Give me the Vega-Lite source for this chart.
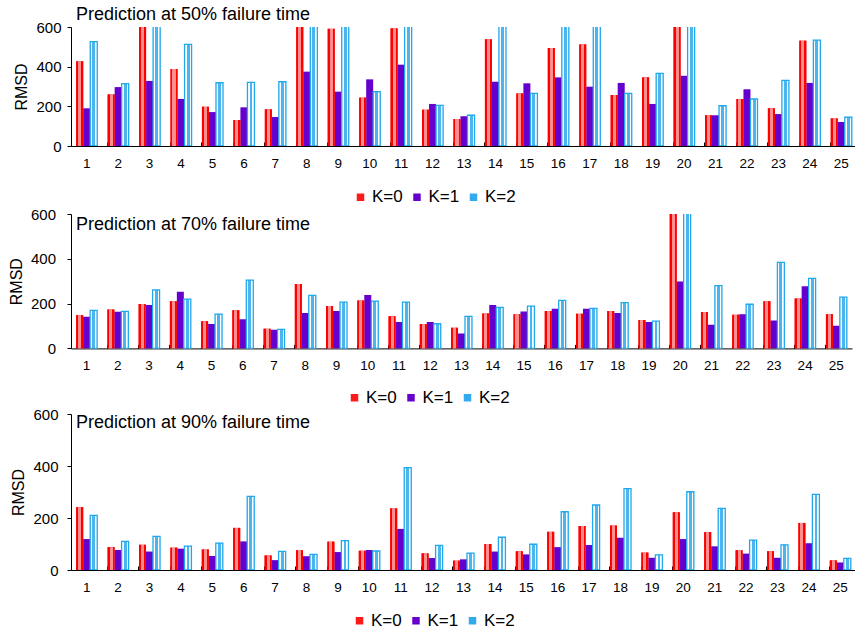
{
  "$schema": "https://vega.github.io/schema/vega-lite/v6.json",
  "padding": {"left": 8, "top": 5, "right": 0, "bottom": 0},
  "config": {
    "font": "Liberation Sans",
    "view": {"stroke": null},
    "axis": {"labelColor": "#000", "titleColor": "#000", "domainColor": "#000", "tickColor": "#000", "grid": false, "titleFontWeight": "normal"},
    "legend": {"labelColor": "#000"}
  },
  "datasets": {
    "d50": [
      {"c":1,"k":"K=0","v":427},{"c":1,"k":"K=1","v":190},{"c":1,"k":"K=2","v":526},
      {"c":2,"k":"K=0","v":260},{"c":2,"k":"K=1","v":297},{"c":2,"k":"K=2","v":314},
      {"c":3,"k":"K=0","v":650},{"c":3,"k":"K=1","v":328},{"c":3,"k":"K=2","v":650},
      {"c":4,"k":"K=0","v":388},{"c":4,"k":"K=1","v":237},{"c":4,"k":"K=2","v":512},
      {"c":5,"k":"K=0","v":198},{"c":5,"k":"K=1","v":171},{"c":5,"k":"K=2","v":319},
      {"c":6,"k":"K=0","v":131},{"c":6,"k":"K=1","v":195},{"c":6,"k":"K=2","v":321},
      {"c":7,"k":"K=0","v":185},{"c":7,"k":"K=1","v":146},{"c":7,"k":"K=2","v":324},
      {"c":8,"k":"K=0","v":650},{"c":8,"k":"K=1","v":375},{"c":8,"k":"K=2","v":650},
      {"c":9,"k":"K=0","v":591},{"c":9,"k":"K=1","v":274},{"c":9,"k":"K=2","v":650},
      {"c":10,"k":"K=0","v":244},{"c":10,"k":"K=1","v":336},{"c":10,"k":"K=2","v":274},
      {"c":11,"k":"K=0","v":593},{"c":11,"k":"K=1","v":410},{"c":11,"k":"K=2","v":650},
      {"c":12,"k":"K=0","v":183},{"c":12,"k":"K=1","v":212},{"c":12,"k":"K=2","v":205},
      {"c":13,"k":"K=0","v":136},{"c":13,"k":"K=1","v":150},{"c":13,"k":"K=2","v":155},
      {"c":14,"k":"K=0","v":538},{"c":14,"k":"K=1","v":324},{"c":14,"k":"K=2","v":650},
      {"c":15,"k":"K=0","v":265},{"c":15,"k":"K=1","v":316},{"c":15,"k":"K=2","v":265},
      {"c":16,"k":"K=0","v":494},{"c":16,"k":"K=1","v":346},{"c":16,"k":"K=2","v":650},
      {"c":17,"k":"K=0","v":512},{"c":17,"k":"K=1","v":299},{"c":17,"k":"K=2","v":650},
      {"c":18,"k":"K=0","v":257},{"c":18,"k":"K=1","v":318},{"c":18,"k":"K=2","v":265},
      {"c":19,"k":"K=0","v":346},{"c":19,"k":"K=1","v":212},{"c":19,"k":"K=2","v":366},
      {"c":20,"k":"K=0","v":650},{"c":20,"k":"K=1","v":354},{"c":20,"k":"K=2","v":650},
      {"c":21,"k":"K=0","v":155},{"c":21,"k":"K=1","v":155},{"c":21,"k":"K=2","v":203},
      {"c":22,"k":"K=0","v":237},{"c":22,"k":"K=1","v":286},{"c":22,"k":"K=2","v":237},
      {"c":23,"k":"K=0","v":190},{"c":23,"k":"K=1","v":161},{"c":23,"k":"K=2","v":331},
      {"c":24,"k":"K=0","v":531},{"c":24,"k":"K=1","v":318},{"c":24,"k":"K=2","v":534},
      {"c":25,"k":"K=0","v":139},{"c":25,"k":"K=1","v":121},{"c":25,"k":"K=2","v":145}
    ],
    "d70": [
      {"c":1,"k":"K=0","v":149},{"c":1,"k":"K=1","v":141},{"c":1,"k":"K=2","v":170},
      {"c":2,"k":"K=0","v":174},{"c":2,"k":"K=1","v":164},{"c":2,"k":"K=2","v":165},
      {"c":3,"k":"K=0","v":198},{"c":3,"k":"K=1","v":194},{"c":3,"k":"K=2","v":261},
      {"c":4,"k":"K=0","v":210},{"c":4,"k":"K=1","v":253},{"c":4,"k":"K=2","v":220},
      {"c":5,"k":"K=0","v":121},{"c":5,"k":"K=1","v":109},{"c":5,"k":"K=2","v":153},
      {"c":6,"k":"K=0","v":170},{"c":6,"k":"K=1","v":130},{"c":6,"k":"K=2","v":305},
      {"c":7,"k":"K=0","v":88},{"c":7,"k":"K=1","v":83},{"c":7,"k":"K=2","v":85},
      {"c":8,"k":"K=0","v":287},{"c":8,"k":"K=1","v":158},{"c":8,"k":"K=2","v":237},
      {"c":9,"k":"K=0","v":189},{"c":9,"k":"K=1","v":167},{"c":9,"k":"K=2","v":207},
      {"c":10,"k":"K=0","v":214},{"c":10,"k":"K=1","v":238},{"c":10,"k":"K=2","v":211},
      {"c":11,"k":"K=0","v":144},{"c":11,"k":"K=1","v":118},{"c":11,"k":"K=2","v":207},
      {"c":12,"k":"K=0","v":109},{"c":12,"k":"K=1","v":118},{"c":12,"k":"K=2","v":110},
      {"c":13,"k":"K=0","v":92},{"c":13,"k":"K=1","v":66},{"c":13,"k":"K=2","v":143},
      {"c":14,"k":"K=0","v":156},{"c":14,"k":"K=1","v":194},{"c":14,"k":"K=2","v":183},
      {"c":15,"k":"K=0","v":152},{"c":15,"k":"K=1","v":165},{"c":15,"k":"K=2","v":189},
      {"c":16,"k":"K=0","v":167},{"c":16,"k":"K=1","v":177},{"c":16,"k":"K=2","v":214},
      {"c":17,"k":"K=0","v":155},{"c":17,"k":"K=1","v":177},{"c":17,"k":"K=2","v":179},
      {"c":18,"k":"K=0","v":167},{"c":18,"k":"K=1","v":158},{"c":18,"k":"K=2","v":204},
      {"c":19,"k":"K=0","v":127},{"c":19,"k":"K=1","v":118},{"c":19,"k":"K=2","v":122},
      {"c":20,"k":"K=0","v":650},{"c":20,"k":"K=1","v":299},{"c":20,"k":"K=2","v":650},
      {"c":21,"k":"K=0","v":162},{"c":21,"k":"K=1","v":106},{"c":21,"k":"K=2","v":280},
      {"c":22,"k":"K=0","v":150},{"c":22,"k":"K=1","v":153},{"c":22,"k":"K=2","v":197},
      {"c":23,"k":"K=0","v":211},{"c":23,"k":"K=1","v":124},{"c":23,"k":"K=2","v":384},
      {"c":24,"k":"K=0","v":223},{"c":24,"k":"K=1","v":278},{"c":24,"k":"K=2","v":313},
      {"c":25,"k":"K=0","v":153},{"c":25,"k":"K=1","v":101},{"c":25,"k":"K=2","v":229}
    ],
    "d90": [
      {"c":1,"k":"K=0","v":242},{"c":1,"k":"K=1","v":119},{"c":1,"k":"K=2","v":210},
      {"c":2,"k":"K=0","v":88},{"c":2,"k":"K=1","v":77},{"c":2,"k":"K=2","v":110},
      {"c":3,"k":"K=0","v":97},{"c":3,"k":"K=1","v":71},{"c":3,"k":"K=2","v":129},
      {"c":4,"k":"K=0","v":86},{"c":4,"k":"K=1","v":82},{"c":4,"k":"K=2","v":92},
      {"c":5,"k":"K=0","v":79},{"c":5,"k":"K=1","v":54},{"c":5,"k":"K=2","v":103},
      {"c":6,"k":"K=0","v":162},{"c":6,"k":"K=1","v":110},{"c":6,"k":"K=2","v":283},
      {"c":7,"k":"K=0","v":56},{"c":7,"k":"K=1","v":38},{"c":7,"k":"K=2","v":72},
      {"c":8,"k":"K=0","v":76},{"c":8,"k":"K=1","v":53},{"c":8,"k":"K=2","v":60},
      {"c":9,"k":"K=0","v":109},{"c":9,"k":"K=1","v":69},{"c":9,"k":"K=2","v":113},
      {"c":10,"k":"K=0","v":74},{"c":10,"k":"K=1","v":77},{"c":10,"k":"K=2","v":73},
      {"c":11,"k":"K=0","v":237},{"c":11,"k":"K=1","v":158},{"c":11,"k":"K=2","v":394},
      {"c":12,"k":"K=0","v":64},{"c":12,"k":"K=1","v":46},{"c":12,"k":"K=2","v":95},
      {"c":13,"k":"K=0","v":36},{"c":13,"k":"K=1","v":41},{"c":13,"k":"K=2","v":65},
      {"c":14,"k":"K=0","v":100},{"c":14,"k":"K=1","v":71},{"c":14,"k":"K=2","v":126},
      {"c":15,"k":"K=0","v":72},{"c":15,"k":"K=1","v":60},{"c":15,"k":"K=2","v":99},
      {"c":16,"k":"K=0","v":147},{"c":16,"k":"K=1","v":88},{"c":16,"k":"K=2","v":224},
      {"c":17,"k":"K=0","v":169},{"c":17,"k":"K=1","v":96},{"c":17,"k":"K=2","v":250},
      {"c":18,"k":"K=0","v":171},{"c":18,"k":"K=1","v":124},{"c":18,"k":"K=2","v":313},
      {"c":19,"k":"K=0","v":67},{"c":19,"k":"K=1","v":47},{"c":19,"k":"K=2","v":58},
      {"c":20,"k":"K=0","v":222},{"c":20,"k":"K=1","v":119},{"c":20,"k":"K=2","v":301},
      {"c":21,"k":"K=0","v":146},{"c":21,"k":"K=1","v":91},{"c":21,"k":"K=2","v":237},
      {"c":22,"k":"K=0","v":76},{"c":22,"k":"K=1","v":63},{"c":22,"k":"K=2","v":115},
      {"c":23,"k":"K=0","v":72},{"c":23,"k":"K=1","v":47},{"c":23,"k":"K=2","v":97},
      {"c":24,"k":"K=0","v":181},{"c":24,"k":"K=1","v":103},{"c":24,"k":"K=2","v":291},
      {"c":25,"k":"K=0","v":37},{"c":25,"k":"K=1","v":29},{"c":25,"k":"K=2","v":45}
    ]
  },
  "spacing": 1,
  "resolve": {"scale": {"x": "independent", "y": "independent", "xOffset": "independent", "color": "independent"}, "legend": {"color": "independent"}},
  "vconcat": [
    {
      "data": {"name": "d50"},
      "width": 786, "height": 119,
      "title": {"text": "Prediction at 50% failure time", "anchor": "start", "frame": "group", "offset": -3.6, "dx": 5, "fontSize": 18, "fontWeight": "normal", "color": "#000"},
      "encoding": {
        "x": {"field": "c", "type": "ordinal", "scale": {"paddingInner": 0.33, "paddingOuter": 0.165}, "axis": {"title": null, "labelAngle": 0, "labelFontSize": 13.5, "bandPosition": 0, "tickSize": -4, "labelPadding": 14}},
        "xOffset": {"field": "k", "type": "nominal", "scale": {"domain": ["K=0", "K=1", "K=2"], "paddingInner": 0, "paddingOuter": 0}},
        "y": {"field": "v", "type": "quantitative", "scale": {"domain": [0, 600], "nice": false}, "axis": {"title": "RMSD", "values": [0, 200, 400, 600], "tickSize": 4, "labelPadding": 6, "labelFontSize": 15, "titleFontSize": 16, "titlePadding": 6}}
      },
      "layer": [
        {"mark": {"type": "bar", "clip": true}, "encoding": {"color": {"field": "k", "type": "nominal", "scale": {"domain": ["K=0", "K=1", "K=2"], "range": ["#ff1a1a", "#6600cc", "#33aaee"]}, "legend": {"title": null, "orient": "none", "legendX": 281, "legendY": 161.5, "direction": "horizontal", "symbolType": "square", "symbolSize": 56, "labelFontSize": 17, "labelOffset": 3, "columnPadding": 5.5}}}},
        {"transform": [{"filter": "datum.k == 'K=0'"}], "mark": {"type": "bar", "clip": true, "fill": {"gradient": "linear", "x1": 0, "y1": 0, "x2": 1, "y2": 0, "stops": [{"offset": 0, "color": "#ff0000"}, {"offset": 0.28, "color": "#ff0000"}, {"offset": 0.28, "color": "#ff8f8f"}, {"offset": 0.72, "color": "#ff8f8f"}, {"offset": 0.72, "color": "#ff0000"}, {"offset": 1, "color": "#ff0000"}]}}},
        {"transform": [{"filter": "datum.k == 'K=2'"}], "mark": {"type": "bar", "clip": true, "stroke": "#1fa8ec", "strokeWidth": 1.3, "fill": {"gradient": "linear", "x1": 0, "y1": 0, "x2": 1, "y2": 0, "stops": [{"offset": 0, "color": "#ffffff"}, {"offset": 0.3, "color": "#ffffff"}, {"offset": 0.3, "color": "#4db5ee"}, {"offset": 0.72, "color": "#4db5ee"}, {"offset": 0.72, "color": "#ffffff"}, {"offset": 1, "color": "#ffffff"}]}}}
      ]
    },
    {
      "data": {"name": "d70"},
      "width": 781, "height": 134.4,
      "title": {"text": "Prediction at 70% failure time", "anchor": "start", "frame": "group", "offset": -27.3, "dx": 5, "fontSize": 18, "fontWeight": "normal", "color": "#000"},
      "encoding": {
        "x": {"field": "c", "type": "ordinal", "scale": {"paddingInner": 0.33, "paddingOuter": 0.165}, "axis": {"title": null, "labelAngle": 0, "labelFontSize": 13.5, "bandPosition": 0, "tickSize": -4, "labelPadding": 14}},
        "xOffset": {"field": "k", "type": "nominal", "scale": {"domain": ["K=0", "K=1", "K=2"], "paddingInner": 0, "paddingOuter": 0}},
        "y": {"field": "v", "type": "quantitative", "scale": {"domain": [0, 600], "nice": false}, "axis": {"title": "RMSD", "values": [0, 200, 400, 600], "tickSize": 4, "labelPadding": 11.5, "labelFontSize": 15, "titleFontSize": 16, "titlePadding": 6}}
      },
      "layer": [
        {"mark": {"type": "bar", "clip": true}, "encoding": {"color": {"field": "k", "type": "nominal", "scale": {"domain": ["K=0", "K=1", "K=2"], "range": ["#ff1a1a", "#6600cc", "#33aaee"]}, "legend": {"title": null, "orient": "none", "legendX": 275, "legendY": 175, "direction": "horizontal", "symbolType": "square", "symbolSize": 56, "labelFontSize": 17, "labelOffset": 3, "columnPadding": 5.5}}}},
        {"transform": [{"filter": "datum.k == 'K=0'"}], "mark": {"type": "bar", "clip": true, "fill": {"gradient": "linear", "x1": 0, "y1": 0, "x2": 1, "y2": 0, "stops": [{"offset": 0, "color": "#ff0000"}, {"offset": 0.28, "color": "#ff0000"}, {"offset": 0.28, "color": "#ff8f8f"}, {"offset": 0.72, "color": "#ff8f8f"}, {"offset": 0.72, "color": "#ff0000"}, {"offset": 1, "color": "#ff0000"}]}}},
        {"transform": [{"filter": "datum.k == 'K=2'"}], "mark": {"type": "bar", "clip": true, "stroke": "#1fa8ec", "strokeWidth": 1.3, "fill": {"gradient": "linear", "x1": 0, "y1": 0, "x2": 1, "y2": 0, "stops": [{"offset": 0, "color": "#ffffff"}, {"offset": 0.3, "color": "#ffffff"}, {"offset": 0.3, "color": "#4db5ee"}, {"offset": 0.72, "color": "#4db5ee"}, {"offset": 0.72, "color": "#ffffff"}, {"offset": 1, "color": "#ffffff"}]}}}
      ]
    },
    {
      "data": {"name": "d90"},
      "width": 785, "height": 156,
      "title": {"text": "Prediction at 90% failure time", "anchor": "start", "frame": "group", "offset": -25, "dx": 5, "fontSize": 18, "fontWeight": "normal", "color": "#000"},
      "encoding": {
        "x": {"field": "c", "type": "ordinal", "scale": {"paddingInner": 0.33, "paddingOuter": 0.165}, "axis": {"title": null, "labelAngle": 0, "labelFontSize": 13.5, "bandPosition": 0, "tickSize": -4, "labelPadding": 14}},
        "xOffset": {"field": "k", "type": "nominal", "scale": {"domain": ["K=0", "K=1", "K=2"], "paddingInner": 0, "paddingOuter": 0}},
        "y": {"field": "v", "type": "quantitative", "scale": {"domain": [0, 600], "nice": false}, "axis": {"title": "RMSD", "values": [0, 200, 400, 600], "tickSize": 4, "labelPadding": 9, "labelFontSize": 15, "titleFontSize": 16, "titlePadding": 6}}
      },
      "layer": [
        {"mark": {"type": "bar", "clip": true}, "encoding": {"color": {"field": "k", "type": "nominal", "scale": {"domain": ["K=0", "K=1", "K=2"], "range": ["#ff1a1a", "#6600cc", "#33aaee"]}, "legend": {"title": null, "orient": "none", "legendX": 280, "legendY": 198, "direction": "horizontal", "symbolType": "square", "symbolSize": 56, "labelFontSize": 17, "labelOffset": 3, "columnPadding": 5.5}}}},
        {"transform": [{"filter": "datum.k == 'K=0'"}], "mark": {"type": "bar", "clip": true, "fill": {"gradient": "linear", "x1": 0, "y1": 0, "x2": 1, "y2": 0, "stops": [{"offset": 0, "color": "#ff0000"}, {"offset": 0.28, "color": "#ff0000"}, {"offset": 0.28, "color": "#ff8f8f"}, {"offset": 0.72, "color": "#ff8f8f"}, {"offset": 0.72, "color": "#ff0000"}, {"offset": 1, "color": "#ff0000"}]}}},
        {"transform": [{"filter": "datum.k == 'K=2'"}], "mark": {"type": "bar", "clip": true, "stroke": "#1fa8ec", "strokeWidth": 1.3, "fill": {"gradient": "linear", "x1": 0, "y1": 0, "x2": 1, "y2": 0, "stops": [{"offset": 0, "color": "#ffffff"}, {"offset": 0.3, "color": "#ffffff"}, {"offset": 0.3, "color": "#4db5ee"}, {"offset": 0.72, "color": "#4db5ee"}, {"offset": 0.72, "color": "#ffffff"}, {"offset": 1, "color": "#ffffff"}]}}}
      ]
    }
  ]
}
